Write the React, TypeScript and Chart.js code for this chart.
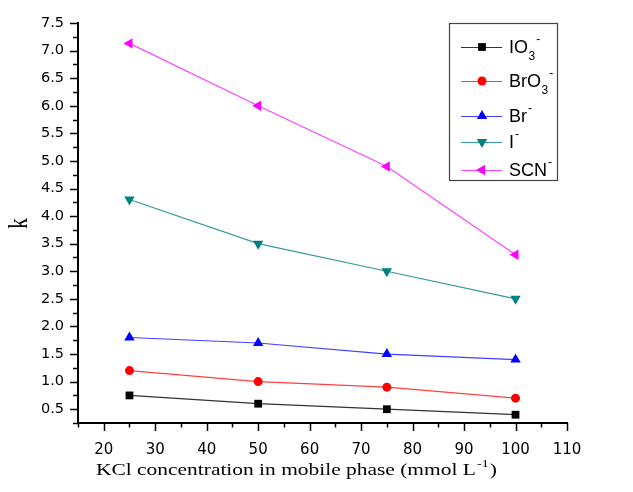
import React, { useEffect, useRef } from 'react';
import { Chart, registerables } from 'chart.js';

Chart.register(...registerables);

// ---- data ----
const kclConc = [25, 50, 75, 100];
const kIO3 = [0.75, 0.6, 0.5, 0.4];
const kBrO3 = [1.2, 1.0, 0.9, 0.7];
const kBr = [1.8, 1.7, 1.5, 1.4];
const kI = [4.3, 3.5, 3.0, 2.5];
const kSCN = [7.13, 6.0, 4.9, 3.3];

const xTickValues = [20, 30, 40, 50, 60, 70, 80, 90, 100, 110];
const xMinorValues = [15, 25, 35, 45, 55, 65, 75, 85, 95, 105];
const yTickValues = [0.5, 1.0, 1.5, 2.0, 2.5, 3.0, 3.5, 4.0, 4.5, 5.0, 5.5, 6.0, 6.5, 7.0, 7.5];
const yMinorValues = [0.25, 0.75, 1.25, 1.75, 2.25, 2.75, 3.25, 3.75, 4.25, 4.75, 5.25, 5.75, 6.25, 6.75, 7.25];

const legendBase = ['IO', 'BrO', 'Br', 'I', 'SCN'];
const legendSub = ['3', '3', '', '', ''];
const legendSup = ['-', '-', '-', '-', '-'];

const xTitleMain = 'KCl concentration in mobile phase (mmol L';
const xTitleSup = '-1';
const xTitleEnd = ')';
const yTitle = 'k';

const seriesValues = [kIO3, kBrO3, kBr, kI, kSCN];
const colors = ['#000000', '#ff0000', '#0000ff', '#008080', '#ff00ff'];
const pointStyles = ['rect', 'circle', 'triangle', 'triangle', 'triangle'];
const pointRotations = [0, 0, 0, 180, -90];
const pointRadii = [5.5, 4.5, 6, 6, 6];
const lineColors = ['#333333', '#ff4040', '#4040ff', '#339999', '#ff44ff'];

const SANS = '"Liberation Sans", Arial, sans-serif';
const TICKSANS = '"DejaVu Sans", "Liberation Sans", sans-serif';
const SERIF = '"Liberation Serif", "Times New Roman", serif';

function drawMarker(ctx: CanvasRenderingContext2D, style: string, rot: number, r: number, x: number, y: number, color: string) {
  ctx.save();
  ctx.fillStyle = color;
  ctx.translate(x, y);
  ctx.rotate((rot * Math.PI) / 180);
  ctx.beginPath();
  if (style === 'rect') {
    const s = Math.SQRT1_2 * r;
    ctx.rect(-s, -s, 2 * s, 2 * s);
  } else if (style === 'circle') {
    ctx.arc(0, 0, r, 0, Math.PI * 2);
  } else {
    ctx.moveTo(0, -r);
    ctx.lineTo(r * Math.sin(Math.PI / 3), r * 0.5);
    ctx.lineTo(-r * Math.sin(Math.PI / 3), r * 0.5);
    ctx.closePath();
  }
  ctx.fill();
  ctx.restore();
}

const decorPlugin = {
  id: 'decor',
  afterDraw(chart: any) {
    const ctx: CanvasRenderingContext2D = chart.ctx;
    const xs = chart.scales.x;
    const ys = chart.scales.y;
    const area = chart.chartArea;
    ctx.save();
    ctx.strokeStyle = '#000';
    ctx.lineWidth = 1.5;
    const drawX = (v: number, len: number) => {
      const px = Math.round(xs.getPixelForValue(v)) + 0.5;
      ctx.beginPath();
      ctx.moveTo(px, area.bottom);
      ctx.lineTo(px, area.bottom + len);
      ctx.stroke();
    };
    xTickValues.forEach((v) => drawX(v, 8));
    xMinorValues.forEach((v) => drawX(v, 4.5));
    const drawY = (v: number, len: number) => {
      const py = Math.round(ys.getPixelForValue(v)) + 0.5;
      ctx.beginPath();
      ctx.moveTo(area.left, py);
      ctx.lineTo(area.left - len, py);
      ctx.stroke();
    };
    yTickValues.forEach((v) => drawY(v, 8));
    yMinorValues.forEach((v) => drawY(v, 5));

    // x axis title (stretched horizontally like the reference)
    ctx.fillStyle = '#000';
    ctx.textBaseline = 'alphabetic';
    ctx.textAlign = 'left';
    const mainFont = `17px ${SERIF}`;
    const supFont = `11px ${SERIF}`;
    ctx.font = mainFont;
    const w1 = ctx.measureText(xTitleMain).width;
    const w3 = ctx.measureText(xTitleEnd).width;
    ctx.font = supFont;
    const w2 = ctx.measureText(xTitleSup).width;
    const total = w1 + w2 + w3 + 2;
    const sx = 401 / total;
    ctx.save();
    ctx.translate(96, 475);
    ctx.scale(sx, 1);
    ctx.font = mainFont;
    ctx.fillText(xTitleMain, 0, 0);
    ctx.font = supFont;
    ctx.fillText(xTitleSup, w1 + 1, -8);
    ctx.font = mainFont;
    ctx.fillText(xTitleEnd, w1 + w2 + 2, 0);
    ctx.restore();

    // y axis title
    ctx.save();
    ctx.translate(26.5, 223.5);
    ctx.rotate(-Math.PI / 2);
    ctx.scale(1, 1.25);
    ctx.textAlign = 'center';
    ctx.font = `21px ${SERIF}`;
    ctx.fillText(yTitle, 0, 0);
    ctx.restore();

    // legend
    ctx.lineWidth = 1.2;
    ctx.strokeStyle = '#444';
    ctx.strokeRect(449.5, 23.5, 108, 157);
    const rowsY = [47, 81, 116, 142, 170];
    legendBase.forEach((base, i) => {
      const y = rowsY[i];
      ctx.strokeStyle = lineColors[i];
      ctx.lineWidth = 1.2;
      ctx.beginPath();
      ctx.moveTo(461, y + 0.5);
      ctx.lineTo(502, y + 0.5);
      ctx.stroke();
      drawMarker(ctx, pointStyles[i], pointRotations[i], pointRadii[i], 482, y, colors[i]);
      ctx.fillStyle = '#000';
      ctx.textAlign = 'left';
      ctx.textBaseline = 'middle';
      ctx.font = `18px ${SANS}`;
      ctx.fillText(base, 509, y + 1);
      let x = 509 + ctx.measureText(base).width;
      if (legendSub[i]) {
        ctx.font = `12px ${SANS}`;
        ctx.fillText(legendSub[i], x + 0.5, y + 10);
        x += ctx.measureText(legendSub[i]).width + 0.5;
      }
      ctx.font = `12px ${SANS}`;
      ctx.fillText(legendSup[i], x + 1, y - 7);
    });
    ctx.restore();
  },
};

export default function App() {
  const ref = useRef<HTMLCanvasElement | null>(null);
  useEffect(() => {
    if (!ref.current) return;
    const datasets = seriesValues.map((vals, i) => ({
      label: legendBase[i],
      data: kclConc.map((x, j) => ({ x, y: vals[j] })),
      borderColor: lineColors[i],
      backgroundColor: colors[i],
      borderWidth: 1.2,
      pointStyle: pointStyles[i] as any,
      pointRotation: pointRotations[i],
      pointRadius: pointRadii[i],
      pointBorderWidth: 0,
      pointBackgroundColor: colors[i],
      pointBorderColor: colors[i],
      tension: 0,
      fill: false,
      clip: false as any,
    }));
    const chart = new Chart(ref.current, {
      type: 'line',
      data: { datasets },
      plugins: [decorPlugin],
      options: {
        animation: false,
        responsive: false,
        devicePixelRatio: 1,
        layout: { padding: { top: 23, right: 66, left: 0, bottom: 0 } },
        plugins: { legend: { display: false }, tooltip: { enabled: false } },
        scales: {
          x: {
            type: 'linear',
            min: 15,
            max: 110,
            afterBuildTicks: (s: any) => {
              s.ticks = xTickValues.map((v) => ({ value: v }));
            },
            afterFit: (s: any) => {
              s.height = 69;
            },
            grid: { display: false, drawTicks: false },
            border: { display: true, color: '#000', width: 2 },
            ticks: {
              padding: 18,
              color: '#000',
              font: { family: TICKSANS, size: 15 },
              maxRotation: 0,
              autoSkip: false,
            },
          },
          y: {
            type: 'linear',
            min: 0.25,
            max: 7.5,
            afterBuildTicks: (s: any) => {
              s.ticks = yTickValues.map((v) => ({ value: v }));
            },
            afterFit: (s: any) => {
              s.width = 78;
            },
            grid: { display: false, drawTicks: false },
            border: { display: true, color: '#000', width: 2 },
            ticks: {
              padding: 14,
              color: '#000',
              font: { family: TICKSANS, size: 14.5 },
              autoSkip: false,
              callback: (v: any) => Number(v).toFixed(1),
            },
          },
        },
      },
    });
    return () => chart.destroy();
  }, []);
  return (
    <div style={{ position: 'absolute', left: 0, top: 0, width: 633, height: 492, background: '#fff' }}>
      <canvas ref={ref} width={633} height={492} style={{ width: 633, height: 492 }} />
    </div>
  );
}
